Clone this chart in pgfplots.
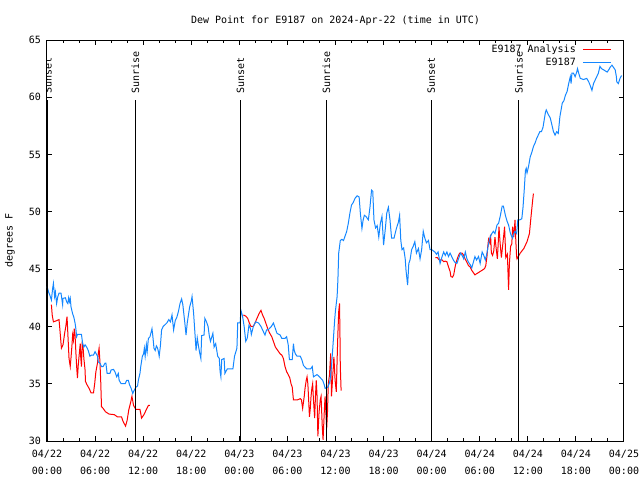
\documentclass[border=0pt]{standalone}
\usepackage{fontspec}
\setmainfont{DejaVu Sans Mono}
\usepackage{pgfplots}
\pgfplotsset{compat=1.18}
\definecolor{gpred}{RGB}{255,0,0}
\definecolor{gpblue}{RGB}{20,135,255}
\begin{document}
\begin{tikzpicture}[font=\fontsize{10pt}{12pt}\selectfont]
\path[use as bounding box] (-47pt,-39pt) rectangle (593pt,441pt);
\begin{axis}[
  name=ax,
  at={(0pt,0pt)}, anchor=south west,
  scale only axis, width=577pt, height=401pt,
  xmin=0, xmax=72, ymin=30, ymax=65,
  xtick={0,6,...,72}, minor x tick num=2,
  ytick={30,35,...,65},
  xticklabels={{04/22\\[5pt]00:00},{04/22\\[5pt]06:00},{04/22\\[5pt]12:00},{04/22\\[5pt]18:00},{04/23\\[5pt]00:00},{04/23\\[5pt]06:00},{04/23\\[5pt]12:00},{04/23\\[5pt]18:00},{04/24\\[5pt]00:00},{04/24\\[5pt]06:00},{04/24\\[5pt]12:00},{04/24\\[5pt]18:00},{04/25\\[5pt]00:00}},
  xticklabel style={align=center, anchor=north, inner sep=0pt, yshift=-8.5pt},
  yticklabel style={anchor=east, inner sep=0pt, xshift=-6pt},
  /pgf/number format/assume math mode=true,
  tick align=inside, major tick length=5pt, minor tick length=3pt,
  every tick/.style={black, line width=1pt},
  axis line style={black, line width=1pt},
  title={Dew Point for E9187 on 2024-Apr-22 (time in UTC)},
  title style={at={(0.5,1)}, anchor=base, yshift=11pt, inner sep=0pt},
  ylabel={degrees F},
  ylabel style={at={(rel axis cs:-0.0641,0.5)}, anchor=center, inner sep=0pt},
  legend cell align=right, legend plot pos=right,
  legend image code/.code={\draw[#1, line width=1pt] (0pt,0pt) -- (28pt,0pt);},
  legend style={at={(1,1)}, anchor=north east, xshift=-12.5pt, yshift=-2.5pt,
    draw=none, fill=none, inner sep=0pt, row sep=0pt, column sep=5pt,
    nodes={inner sep=1.5pt, text height=8pt, text depth=2pt}},
]
% --- E9187 Analysis (red) ---
\addplot[gpred, line width=1pt] coordinates {
(0.55,41.9) (0.65,41.0) (0.8,40.4) (1.2,40.5) (1.5,40.6) (1.6,39.8) (1.8,38.1) (2.0,38.4)
(2.2,39.4) (2.35,40.0) (2.45,40.6) (2.5,40.85) (2.6,39.4) (2.75,37.2) (2.9,36.5) (3.0,37.3)
(3.1,38.2) (3.2,39.25) (3.3,38.8) (3.4,39.8) (3.5,39.25) (3.6,37.8) (3.7,36.5) (3.8,35.5)
(3.9,36.6) (4.0,37.4) (4.15,38.5) (4.2,37.4) (4.3,36.5) (4.4,38.7) (4.5,38.2) (4.6,37.2)
(4.75,36.2) (4.8,35.2) (5.0,34.9) (5.25,34.6) (5.5,34.2) (5.8,34.2) (5.95,35.0) (6.1,36.05)
(6.3,36.8) (6.4,37.65) (6.5,38.1) (6.6,37.0) (6.7,35.3) (6.8,33.0) (7.0,32.85) (7.3,32.55)
(7.75,32.35) (8.4,32.3) (8.8,32.1) (9.3,32.1) (9.5,31.7) (9.8,31.3) (10.0,31.8) (10.2,32.7)
(10.45,33.4) (10.6,33.9) (10.8,33.1) (11.1,32.75) (11.6,32.75) (11.7,32.4) (11.8,32.0)
(12.1,32.3) (12.5,32.9) (12.65,33.1) (12.85,33.1)
};
\addlegendentry{E9187 Analysis}
\addplot[gpred, line width=1pt, forget plot] coordinates {
(24.5,41.0) (24.8,40.9) (25.05,40.7) (25.25,40.3) (25.45,40.0) (25.75,40.0) (25.95,40.3)
(26.2,40.7) (26.45,41.1) (26.7,41.4) (26.9,41.0) (27.1,40.7) (27.25,40.4) (27.4,40.1)
(27.6,39.7) (27.8,39.4) (28.05,39.1) (28.25,38.7) (28.5,38.2) (28.7,38.0) (28.9,37.8)
(29.1,37.6) (29.3,37.5) (29.5,37.2) (29.7,36.5) (29.9,36.05) (30.1,35.8) (30.3,35.5)
(30.45,35.0) (30.6,34.7) (30.75,33.6) (31.0,33.6) (31.3,33.6) (31.6,33.7) (31.75,33.6)
(31.9,32.85) (32.1,33.9) (32.2,34.6) (32.35,35.3) (32.45,35.6) (32.55,35.0) (32.65,33.6)
(32.75,32.1) (32.85,32.8) (32.95,33.9) (33.05,34.6) (33.15,35.0) (33.25,33.6) (33.4,32.0)
(33.5,33.9) (33.6,35.3) (33.7,33.9) (33.8,30.4) (33.95,32.5) (34.1,33.6) (34.2,33.9)
(34.35,31.25) (34.45,30.1) (34.6,32.55) (34.7,33.9) (34.8,32.5) (34.9,31.1) (35.0,32.5)
(35.1,35.0) (35.25,35.75) (35.4,37.65) (35.45,35.7) (35.5,33.9) (35.65,35.6) (35.8,37.35)
(35.95,35.3) (36.1,34.3) (36.2,37.0) (36.3,39.4) (36.4,41.3) (36.5,42.0) (36.55,39.8)
(36.6,36.5) (36.7,34.4)
};
\addplot[gpred, line width=1pt, forget plot] coordinates {
(48.45,46.0) (48.7,46.0) (48.95,45.8) (49.3,45.8) (49.5,45.65) (49.7,45.7) (49.9,45.65)
(50.1,45.2) (50.3,44.8) (50.4,44.35) (50.6,44.3) (50.75,44.5) (50.9,45.1) (51.05,45.6)
(51.15,45.8) (51.35,46.2) (51.5,46.4) (51.8,46.4) (52.0,46.2) (52.2,45.85) (52.4,45.6)
(52.6,45.3) (52.8,45.2) (53.0,44.9) (53.2,44.7) (53.4,44.5) (53.6,44.6) (53.85,44.7)
(54.05,44.8) (54.3,44.9) (54.6,45.05) (54.75,45.3) (54.9,46.1) (55.0,46.95) (55.1,47.6)
(55.25,47.3) (55.35,48.0) (55.45,46.4) (55.6,46.2) (55.75,46.6) (55.9,47.8)
(56.05,46.8) (56.2,45.9) (56.3,47.2) (56.4,48.7) (56.55,47.2) (56.7,46.0)
(57.0,48.0) (57.1,48.7) (57.25,46.0) (57.45,46.3) (57.6,43.2)
(57.7,45.5) (57.85,47.0) (58.0,47.2) (58.1,48.7) (58.25,47.8)
(58.4,49.3) (58.5,47.5) (58.6,46.1) (58.65,45.9) (59.05,46.4) (59.5,46.8) (59.9,47.4)
(60.2,48.1) (60.4,49.6) (60.6,51.0) (60.7,51.6)
};
% --- E9187 (blue) ---
\addplot[gpblue, line width=1pt] coordinates {
(0.0,43.5) (0.2,43.0) (0.37,42.7) (0.55,42.3) (0.7,43.3) (0.8,43.75) (0.95,42.6) (1.05,43.0)
(1.2,42.0) (1.35,42.6) (1.5,42.9) (1.75,42.9) (1.85,42.4) (1.95,41.9) (2.0,42.45) (2.3,42.5)
(2.45,42.15) (2.6,42.0) (2.7,42.5) (2.8,42.15) (2.9,42.45) (3.0,41.7) (3.2,41.1) (3.35,40.8)
(3.5,40.3) (3.6,39.8) (3.7,39.1) (3.8,39.3) (4.3,39.3) (4.45,38.5) (4.6,38.2) (4.75,38.4)
(4.95,38.2) (5.15,37.9) (5.35,37.4) (5.55,37.5) (5.8,37.5) (6.0,37.8) (6.15,37.6) (6.3,37.4)
(6.4,36.9) (6.6,36.8) (6.8,36.5) (7.0,36.5) (7.25,36.8) (7.35,36.8) (7.5,35.9) (7.85,35.9)
(8.0,36.2) (8.3,36.25) (8.5,36.0) (8.7,35.6) (8.9,35.9) (9.0,35.3) (9.25,35.0) (9.75,35.0)
(9.95,35.3) (10.15,35.3) (10.3,34.9) (10.5,34.6) (10.7,34.15) (10.9,34.45) (11.1,34.7)
(11.3,34.8) (11.4,35.3) (11.6,35.9) (11.7,36.5) (11.9,37.4) (12.05,37.6) (12.15,38.1)
(12.25,37.4) (12.4,38.4) (12.5,37.8) (12.65,38.95) (12.85,39.1) (13.1,39.8) (13.2,39.2)
(13.35,38.1) (13.5,37.9) (13.65,38.3) (13.8,38.1) (13.9,37.8) (14.0,37.4) (14.15,38.3)
(14.3,39.7) (14.5,40.0) (14.95,40.3) (15.2,40.6) (15.4,40.4) (15.6,41.0) (15.8,39.7)
(16.0,40.5) (16.2,40.8) (16.4,41.3) (16.6,42.0) (16.8,42.4) (16.95,41.9) (17.2,40.3)
(17.35,39.25) (17.5,40.3) (17.8,41.7) (18.0,42.2) (18.1,42.6) (18.3,41.1) (18.5,39.0)
(18.6,37.9) (18.75,39.0) (18.9,38.3) (19.05,37.7) (19.2,37.2) (19.3,39.2) (19.6,39.25)
(19.7,40.7) (19.9,40.4) (20.1,40.0) (20.25,39.2) (20.4,38.7) (20.7,39.4) (20.85,38.2)
(21.05,38.5) (21.3,37.4) (21.5,37.2) (21.6,36.05) (21.7,35.6) (21.8,37.1) (22.1,37.2)
(22.2,35.9) (22.5,36.3) (23.2,36.3) (23.4,37.4) (23.7,38.1) (23.8,40.3) (24.1,40.3)
(24.2,41.4) (24.4,40.9) (24.6,40.0) (24.8,38.7) (25.0,39.0) (25.2,40.1) (25.4,39.8)
(25.5,39.3) (25.75,40.0) (26.05,40.4) (26.4,40.3) (26.7,40.0) (27.0,39.55) (27.2,39.25)
(27.4,39.7) (27.6,39.7) (28.0,40.0) (28.25,40.3) (28.45,39.9) (28.7,39.4) (29.1,39.25)
(29.3,38.95) (29.7,38.95) (29.9,39.1) (30.1,38.4) (30.25,37.1) (30.6,37.1) (30.75,38.5)
(30.85,37.9) (31.0,37.6) (31.2,37.4) (31.6,37.4) (31.8,37.1) (32.0,36.6) (32.4,36.3)
(32.9,36.3) (33.1,36.5) (33.25,35.6) (33.7,35.8) (34.0,35.6) (34.4,35.3) (34.6,34.9)
(34.7,34.6) (35.05,34.7) (35.3,35.2) (35.5,36.5) (35.7,38.5) (35.9,40.6) (36.0,41.4)
(36.2,42.6) (36.3,44.05) (36.4,46.4) (36.6,47.5) (36.8,47.6) (37.0,47.5) (37.2,47.9)
(37.4,48.3) (37.6,49.0) (37.8,49.9) (38.0,50.6) (38.2,50.8) (38.45,51.2) (38.7,51.4)
(38.95,51.3) (39.1,49.9) (39.3,48.55) (39.45,49.3) (39.6,49.7) (39.8,49.6) (40.1,49.3)
(40.3,50.4) (40.5,51.9) (40.65,51.8) (40.8,49.3) (41.0,48.6) (41.2,48.8) (41.4,47.8)
(41.6,49.0) (41.8,49.6) (42.0,47.1) (42.2,48.4) (42.4,49.9) (42.6,50.4) (42.8,49.3)
(43.0,47.7) (43.3,47.7) (43.6,48.55) (43.85,49.1) (44.0,49.7) (44.15,47.5) (44.3,46.7)
(44.5,46.85) (44.7,45.9) (44.8,44.9) (45.0,43.6) (45.15,45.5) (45.3,45.8) (45.5,46.7)
(45.7,47.0) (45.9,47.4) (46.1,46.4) (46.35,46.8) (46.55,45.9) (46.75,46.7) (46.95,48.3)
(47.15,47.7) (47.35,47.3) (47.6,47.5) (47.8,46.7) (48.0,46.7) (48.4,46.5) (48.6,46.3)
(48.8,46.5) (49.05,45.5) (49.3,46.1) (49.5,46.5) (49.7,46.2) (49.9,46.5) (50.1,46.1)
(50.3,46.4) (50.5,46.1) (50.7,45.8) (50.9,45.6) (51.15,45.5) (51.35,45.9) (51.6,46.4)
(51.8,46.2) (52.0,45.9) (52.2,46.5) (52.4,45.9) (52.6,45.6) (52.8,45.4) (53.0,45.1)
(53.2,45.6) (53.4,46.1) (53.6,45.8) (53.85,46.1) (54.05,45.5) (54.3,46.5) (54.5,46.2)
(54.7,45.8) (54.9,46.4) (55.1,47.25) (55.3,47.8) (55.5,48.1) (55.7,48.3) (55.9,48.1)
(56.15,48.85) (56.35,49.0) (56.55,49.6) (56.8,50.5) (56.95,50.5) (57.2,49.7) (57.4,49.2)
(57.6,48.85) (57.8,48.2) (57.95,47.9) (58.1,47.7) (58.25,48.1) (58.4,48.3) (58.6,48.1)
(58.75,49.3) (59.0,49.3) (59.25,49.4) (59.4,50.4) (59.55,51.9) (59.7,53.6) (59.8,53.8)
(59.9,53.4) (60.1,54.0) (60.3,54.8) (60.5,55.2) (60.7,55.7) (60.9,56.0) (61.1,56.4)
(61.3,56.7) (61.5,57.0) (61.7,57.0) (61.9,57.4) (62.2,58.7) (62.3,58.9) (62.55,58.5)
(62.8,58.2) (63.0,57.6) (63.2,57.0) (63.4,56.7) (63.6,57.0) (63.8,56.85) (64.0,58.3)
(64.3,59.5) (64.5,59.7) (64.7,60.2) (64.9,60.5) (65.1,61.2) (65.3,61.8) (65.4,61.2)
(65.5,62.1) (65.7,62.1) (65.9,61.8) (66.1,62.2) (66.2,62.5) (66.35,62.1) (66.55,61.65)
(66.95,61.55) (67.35,61.65) (67.6,61.35) (67.8,61.0) (68.0,60.6) (68.2,61.2) (68.4,61.5)
(68.6,61.8) (68.8,62.1) (69.0,62.7) (69.2,62.5) (69.45,62.4) (69.9,62.2) (70.1,62.4)
(70.3,62.65) (70.5,62.8) (70.7,62.6) (70.9,62.4) (71.05,61.8) (71.1,61.35) (71.3,61.2)
(71.5,61.65) (71.7,61.9)
};
\addlegendentry{E9187}
% --- sunset / sunrise markers ---
\addplot[black, line width=1pt, forget plot] coordinates {(0.12,30) (0.12,59.8)};
\addplot[black, line width=1pt, forget plot] coordinates {(11.02,30) (11.02,59.8)};
\addplot[black, line width=1pt, forget plot] coordinates {(24.15,30) (24.15,59.8)};
\addplot[black, line width=1pt, forget plot] coordinates {(34.87,30) (34.87,59.8)};
\addplot[black, line width=1pt, forget plot] coordinates {(47.96,30) (47.96,59.8)};
\addplot[black, line width=1pt, forget plot] coordinates {(58.87,30) (58.87,59.8)};
\node[rotate=90, anchor=west, inner sep=0pt] at (axis cs:0.12,60.3) {Sunset};
\node[rotate=90, anchor=west, inner sep=0pt] at (axis cs:11.02,60.3) {Sunrise};
\node[rotate=90, anchor=west, inner sep=0pt] at (axis cs:24.15,60.3) {Sunset};
\node[rotate=90, anchor=west, inner sep=0pt] at (axis cs:34.87,60.3) {Sunrise};
\node[rotate=90, anchor=west, inner sep=0pt] at (axis cs:47.96,60.3) {Sunset};
\node[rotate=90, anchor=west, inner sep=0pt] at (axis cs:58.87,60.3) {Sunrise};
\end{axis}
\end{tikzpicture}
\end{document}
